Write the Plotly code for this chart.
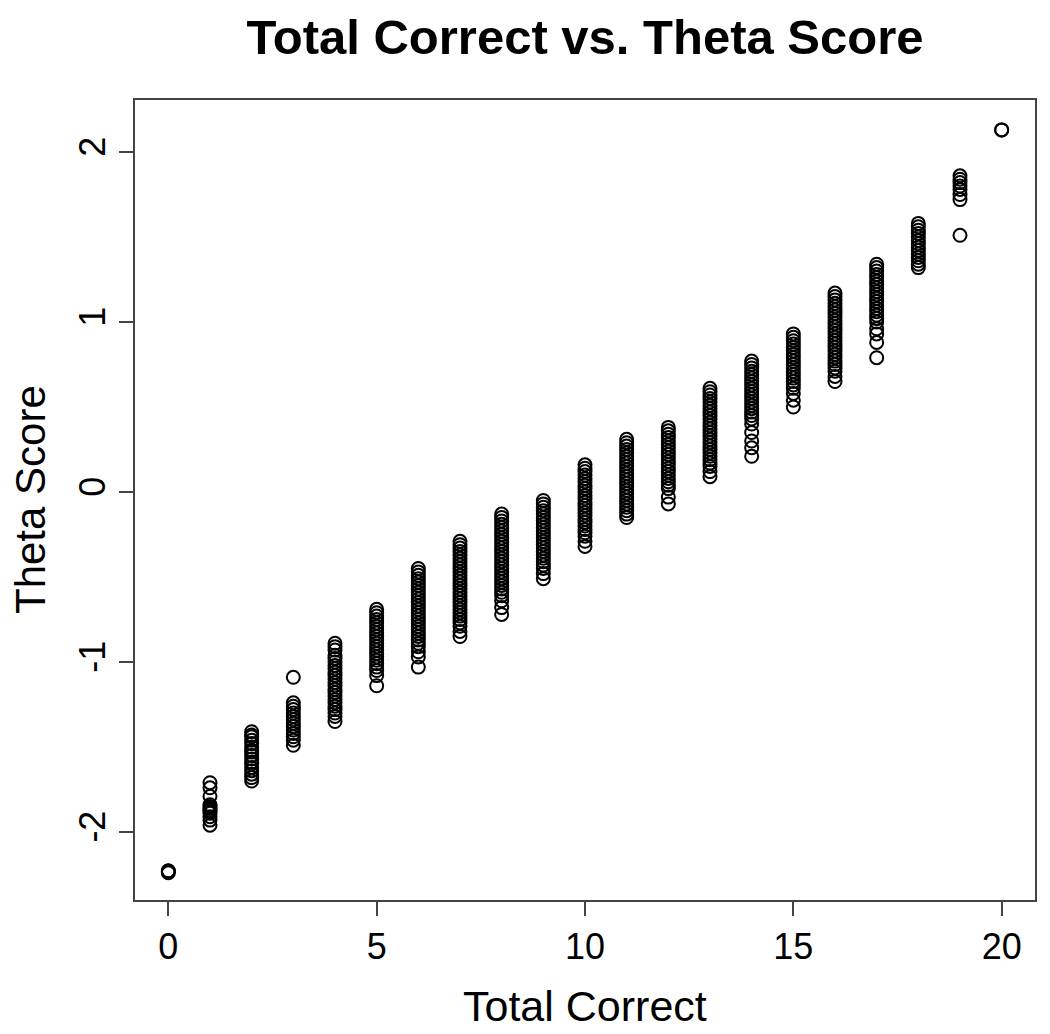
import plotly.graph_objects as go

# theta estimates for each total-correct score
theta_0 = [-2.23, -2.23, -2.24, -2.23]
theta_1 = [-1.71, -1.74, -1.79, -1.84, -1.85, -1.86, -1.87, -1.88, -1.89, -1.91, -1.93, -1.96]
theta_2 = [-1.41, -1.43, -1.44, -1.46, -1.48, -1.50, -1.52, -1.53, -1.55, -1.57, -1.59, -1.60,
           -1.62, -1.64, -1.66, -1.68, -1.70]
theta_3 = [-1.09, -1.24, -1.26, -1.28, -1.30, -1.32, -1.34, -1.36, -1.38, -1.40, -1.42, -1.44,
           -1.46, -1.49]
theta_4 = [-0.89, -0.91, -0.93, -0.96, -0.98, -1.00, -1.02, -1.04, -1.06, -1.08, -1.10, -1.12,
           -1.14, -1.16, -1.18, -1.20, -1.22, -1.24, -1.26, -1.28, -1.30, -1.32, -1.35]
theta_5 = [-0.69, -0.71, -0.73, -0.75, -0.77, -0.79, -0.81, -0.83, -0.85, -0.87, -0.89, -0.91,
           -0.93, -0.95, -0.97, -0.99, -1.01, -1.03, -1.05, -1.08, -1.14]
theta_6 = [-0.45, -0.47, -0.49, -0.51, -0.53, -0.55, -0.57, -0.59, -0.61, -0.63, -0.65, -0.67,
           -0.69, -0.71, -0.73, -0.75, -0.77, -0.79, -0.81, -0.83, -0.85, -0.87, -0.89, -0.91,
           -0.94, -0.97, -1.03]
theta_7 = [-0.29, -0.31, -0.33, -0.35, -0.37, -0.39, -0.41, -0.43, -0.45, -0.47, -0.49, -0.51,
           -0.53, -0.55, -0.57, -0.59, -0.61, -0.63, -0.65, -0.67, -0.69, -0.71, -0.73, -0.75,
           -0.77, -0.79, -0.82, -0.85]
theta_8 = [-0.13, -0.15, -0.17, -0.19, -0.21, -0.23, -0.25, -0.27, -0.29, -0.31, -0.33, -0.35,
           -0.37, -0.39, -0.41, -0.43, -0.45, -0.47, -0.49, -0.51, -0.53, -0.55, -0.57, -0.59,
           -0.61, -0.64, -0.68, -0.72]
theta_9 = [-0.05, -0.07, -0.09, -0.11, -0.13, -0.15, -0.17, -0.19, -0.21, -0.23, -0.25, -0.27,
           -0.29, -0.31, -0.33, -0.35, -0.37, -0.39, -0.41, -0.43, -0.45, -0.48, -0.51]
theta_10 = [0.16, 0.14, 0.12, 0.10, 0.08, 0.06, 0.04, 0.02, 0.00, -0.02, -0.04, -0.06, -0.08,
            -0.10, -0.12, -0.14, -0.16, -0.18, -0.20, -0.22, -0.24, -0.26, -0.29, -0.32]
theta_11 = [0.31, 0.29, 0.27, 0.25, 0.23, 0.21, 0.19, 0.17, 0.15, 0.13, 0.11, 0.09, 0.07, 0.05,
            0.03, 0.01, -0.01, -0.03, -0.05, -0.07, -0.09, -0.11, -0.13, -0.15]
theta_12 = [0.38, 0.36, 0.34, 0.32, 0.30, 0.28, 0.26, 0.24, 0.22, 0.20, 0.18, 0.16, 0.14, 0.12,
            0.10, 0.08, 0.06, 0.04, 0.02, -0.03, -0.07]
theta_13 = [0.61, 0.59, 0.57, 0.55, 0.53, 0.51, 0.49, 0.47, 0.45, 0.43, 0.41, 0.39, 0.37, 0.35,
            0.33, 0.31, 0.29, 0.27, 0.25, 0.23, 0.21, 0.19, 0.17, 0.15, 0.12, 0.09]
theta_14 = [0.77, 0.75, 0.73, 0.71, 0.69, 0.67, 0.65, 0.63, 0.61, 0.59, 0.57, 0.55, 0.53, 0.51,
            0.49, 0.47, 0.45, 0.43, 0.40, 0.35, 0.30, 0.26, 0.21]
theta_15 = [0.93, 0.91, 0.89, 0.87, 0.85, 0.83, 0.81, 0.79, 0.77, 0.75, 0.73, 0.71, 0.69, 0.67,
            0.65, 0.63, 0.61, 0.58, 0.54, 0.50]
theta_16 = [1.17, 1.15, 1.13, 1.11, 1.09, 1.07, 1.05, 1.03, 1.01, 0.99, 0.97, 0.95, 0.93, 0.91,
            0.89, 0.87, 0.85, 0.83, 0.81, 0.79, 0.77, 0.75, 0.73, 0.71, 0.68, 0.65]
theta_17 = [1.34, 1.32, 1.30, 1.28, 1.26, 1.24, 1.22, 1.20, 1.18, 1.16, 1.14, 1.12, 1.10, 1.08,
            1.06, 1.04, 1.02, 1.00, 0.96, 0.93, 0.88, 0.79]
theta_18 = [1.58, 1.56, 1.54, 1.52, 1.50, 1.48, 1.46, 1.44, 1.42, 1.40, 1.38, 1.36, 1.34, 1.32]
theta_19 = [1.86, 1.84, 1.82, 1.80, 1.78, 1.75, 1.72, 1.51]
theta_20 = [2.13, 2.13]

thetas = [theta_0, theta_1, theta_2, theta_3, theta_4, theta_5, theta_6, theta_7, theta_8,
          theta_9, theta_10, theta_11, theta_12, theta_13, theta_14, theta_15, theta_16,
          theta_17, theta_18, theta_19, theta_20]

x_ticks = [0, 5, 10, 15, 20]
y_ticks = [-2, -1, 0, 1, 2]

xs = []
ys = []
for score, vals in enumerate(thetas):
    for v in vals:
        xs.append(score)
        ys.append(v)

font = "Liberation Sans, Arial, sans-serif"

fig = go.Figure()
fig.add_trace(go.Scatter(x=xs, y=ys, mode="markers",
                         marker=dict(symbol="circle-open", size=13, color="black",
                                     line=dict(width=2, color="black"))))

axis_common = dict(showgrid=False, zeroline=False, showline=True, mirror=True,
                   linecolor="#444", linewidth=1.5, ticks="outside", ticklen=14,
                   tickwidth=1.5, tickcolor="#444",
                   tickfont=dict(family=font, size=36, color="black"))

fig.update_xaxes(range=[-0.8, 20.8], tickvals=x_ticks, **axis_common)
fig.update_yaxes(range=[-2.4, 2.306], tickvals=y_ticks, ticktext=[str(t) for t in y_ticks],
                 tickangle=-90, **axis_common)

# page body has an 8px margin, so the margins are shifted to land on the reference box
fig.update_layout(
    width=1050, height=1034,
    margin=dict(l=127, r=23, t=92, b=142),
    plot_bgcolor="white", paper_bgcolor="white",
    showlegend=False,
    title=dict(text="<b>Total Correct vs. Theta Score</b>", x=0.5495, xanchor="center",
               y=1 - 29 / 1034, yanchor="middle",
               font=dict(family=font, size=49, color="black")),
    annotations=[
        dict(text="Total Correct", xref="paper", yref="paper", x=0.5, y=0,
             yshift=-106, yanchor="middle", showarrow=False,
             font=dict(family=font, size=43, color="black")),
        dict(text="Theta Score", xref="paper", yref="paper", x=0, y=0.5,
             xshift=-105, xanchor="center", textangle=-90, showarrow=False,
             font=dict(family=font, size=42, color="black")),
    ],
)

fig.write_html("out.html")
